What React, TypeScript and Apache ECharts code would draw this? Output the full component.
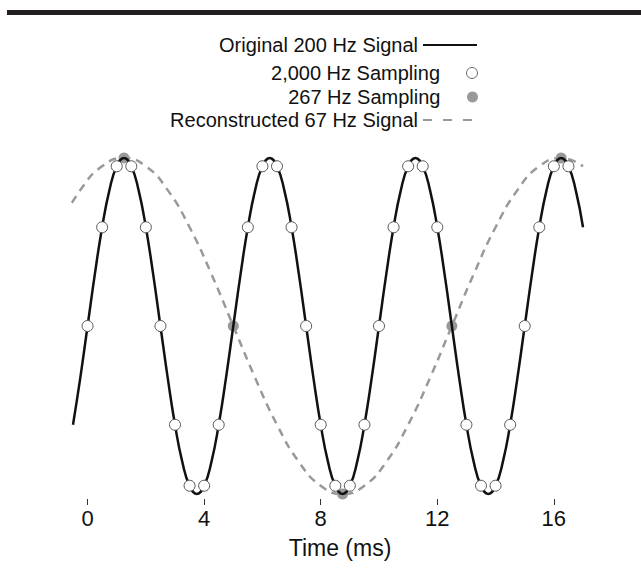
import React, { useEffect, useRef } from "react";
import * as echarts from "echarts";

// Original 200 Hz signal, sampled every 0.25 ms starting at -0.5 ms
const signalStartMs = -0.5;
const signalStepMs = 0.25;
const signalValues = [
  -0.588, -0.309,
  0, 0.309, 0.588, 0.809, 0.951, 1, 0.951, 0.809, 0.588, 0.309,
  0, -0.309, -0.588, -0.809, -0.951, -1, -0.951, -0.809, -0.588, -0.309,
  0, 0.309, 0.588, 0.809, 0.951, 1, 0.951, 0.809, 0.588, 0.309,
  0, -0.309, -0.588, -0.809, -0.951, -1, -0.951, -0.809, -0.588, -0.309,
  0, 0.309, 0.588, 0.809, 0.951, 1, 0.951, 0.809, 0.588, 0.309,
  0, -0.309, -0.588, -0.809, -0.951, -1, -0.951, -0.809, -0.588, -0.309,
  0, 0.309, 0.588, 0.809, 0.951, 1, 0.951, 0.809, 0.588,
];

// 2,000 Hz sampling (white circles; none drawn where a 267 Hz dot sits at 5 and 12.5 ms)
const fastSampleTimes = [
  0, 0.5, 1, 1.5, 2, 2.5, 3, 3.5, 4, 4.5, 5.5, 6, 6.5, 7, 7.5, 8, 8.5,
  9, 9.5, 10, 10.5, 11, 11.5, 12, 13, 13.5, 14, 14.5, 15, 15.5, 16, 16.5,
];
const fastSampleValues = [
  0, 0.588, 0.951, 0.951, 0.588, 0, -0.588, -0.951, -0.951, -0.588,
  0.588, 0.951, 0.951, 0.588, 0, -0.588, -0.951, -0.951, -0.588,
  0, 0.588, 0.951, 0.951, 0.588, -0.588, -0.951, -0.951, -0.588,
  0, 0.588, 0.951, 0.951,
];

// 267 Hz sampling
const slowSampleTimes = [1.25, 5, 8.75, 12.5, 16.25];
const slowSampleValues = [1, 0, -1, 0, 1];

// Reconstructed 67 Hz signal
const aliasTimes = [
  -1, -0.25, 0.5, 1.25, 2, 2.75, 3.5, 4.25, 5, 5.75, 6.5, 7.25, 8, 8.75,
  9.5, 10.25, 11, 11.75, 12.5, 13.25, 14, 14.75, 15.5, 16.25, 17,
];
const aliasValues = [
  0.588, 0.809, 0.951, 1, 0.951, 0.809, 0.588, 0.309, 0, -0.309, -0.588,
  -0.809, -0.951, -1, -0.951, -0.809, -0.588, -0.309, 0, 0.309, 0.588,
  0.809, 0.951, 1, 0.951,
];

const xTicks = [0, 4, 8, 12, 16];

const names = [
  "Original 200 Hz Signal",
  "2,000 Hz Sampling",
  "267 Hz Sampling",
  "Reconstructed 67 Hz Signal",
];

export default function App() {
  const ref = useRef<HTMLDivElement>(null);
  useEffect(() => {
    document.body.style.margin = "0";
    if (!ref.current) return;
    const chart = echarts.init(ref.current, null, { renderer: "svg" });
    const font = "'Liberation Sans', Arial, Helvetica, sans-serif";
    const signalData = signalValues.map((v, i) => [signalStartMs + i * signalStepMs, v]);
    const fastData = fastSampleTimes.map((t, i) => [t, fastSampleValues[i]]);
    const slowData = slowSampleTimes.map((t, i) => [t, slowSampleValues[i]]);
    const aliasData = aliasTimes.map((t, i) => [t, aliasValues[i]]);
    const legendRows = [35, 63, 87, 110];
    const hiddenSymbol = {
      color: "rgba(0,0,0,0)",
      borderColor: "rgba(0,0,0,0)",
      borderWidth: 0,
    };
    const mkLegend = (i: number, extra: any) => ({
      data: [names[i]],
      right: 163,
      top: legendRows[i],
      orient: "vertical",
      align: "right",
      padding: 0,
      selectedMode: false,
      itemWidth: 54,
      itemHeight: 11,
      textStyle: { fontFamily: font, fontSize: 20, color: "#111" },
      ...extra,
    });
    chart.setOption({
      animation: false,
      backgroundColor: "#fff",
      graphic: [
        {
          type: "rect",
          shape: { x: 7, y: 10, width: 640, height: 5 },
          style: { fill: "#231f20" },
        },
      ],
      legend: [
        mkLegend(0, { itemStyle: hiddenSymbol, lineStyle: { width: 2 } }),
        mkLegend(1, { icon: "circle", itemStyle: { borderWidth: 1, borderColor: "#666" } }),
        mkLegend(2, { icon: "circle" }),
        mkLegend(3, { itemStyle: hiddenSymbol, lineStyle: { width: 2, type: [9, 11] } }),
      ],
      grid: { left: 73, right: 58, top: 153, bottom: 85 },
      xAxis: {
        type: "value",
        min: -0.5,
        max: 17,
        axisLine: { show: false, onZero: false },
        splitLine: { show: false },
        axisTick: {
          show: true,
          customValues: xTicks,
          length: 6,
          lineStyle: { color: "#333", width: 1 },
        },
        axisLabel: {
          customValues: xTicks,
          margin: 8,
          fontFamily: font,
          fontSize: 22,
          color: "#111",
        },
        name: "Time (ms)",
        nameLocation: "middle",
        nameGap: 37,
        nameTextStyle: {
          fontFamily: font,
          fontSize: 23,
          color: "#111",
          padding: [0, 0, 0, 24],
        },
      },
      yAxis: {
        type: "value",
        min: -1.03,
        max: 1.03,
        show: false,
      },
      series: [
        {
          name: names[2],
          type: "scatter",
          data: slowData,
          symbol: "circle",
          symbolSize: 11,
          clip: false,
          z: 1,
          itemStyle: { color: "#999", borderWidth: 0, opacity: 1 },
        },
        {
          name: names[3],
          type: "line",
          data: aliasData,
          smooth: true,
          symbol: "none",
          showSymbol: false,
          z: 2,
          lineStyle: { color: "#999", width: 2.5, type: [8, 6] },
          itemStyle: { color: "#999" },
        },
        {
          name: names[0],
          type: "line",
          data: signalData,
          smooth: true,
          symbol: "none",
          showSymbol: false,
          z: 3,
          lineStyle: { color: "#111", width: 2.5 },
          itemStyle: { color: "#111" },
        },
        {
          name: names[1],
          type: "scatter",
          data: fastData,
          symbol: "circle",
          symbolSize: 11,
          clip: false,
          z: 4,
          itemStyle: { color: "#fff", borderColor: "#555", borderWidth: 1, opacity: 1 },
        },
      ],
    });
    return () => chart.dispose();
  }, []);
  return <div ref={ref} style={{ width: 641, height: 584 }} />;
}
